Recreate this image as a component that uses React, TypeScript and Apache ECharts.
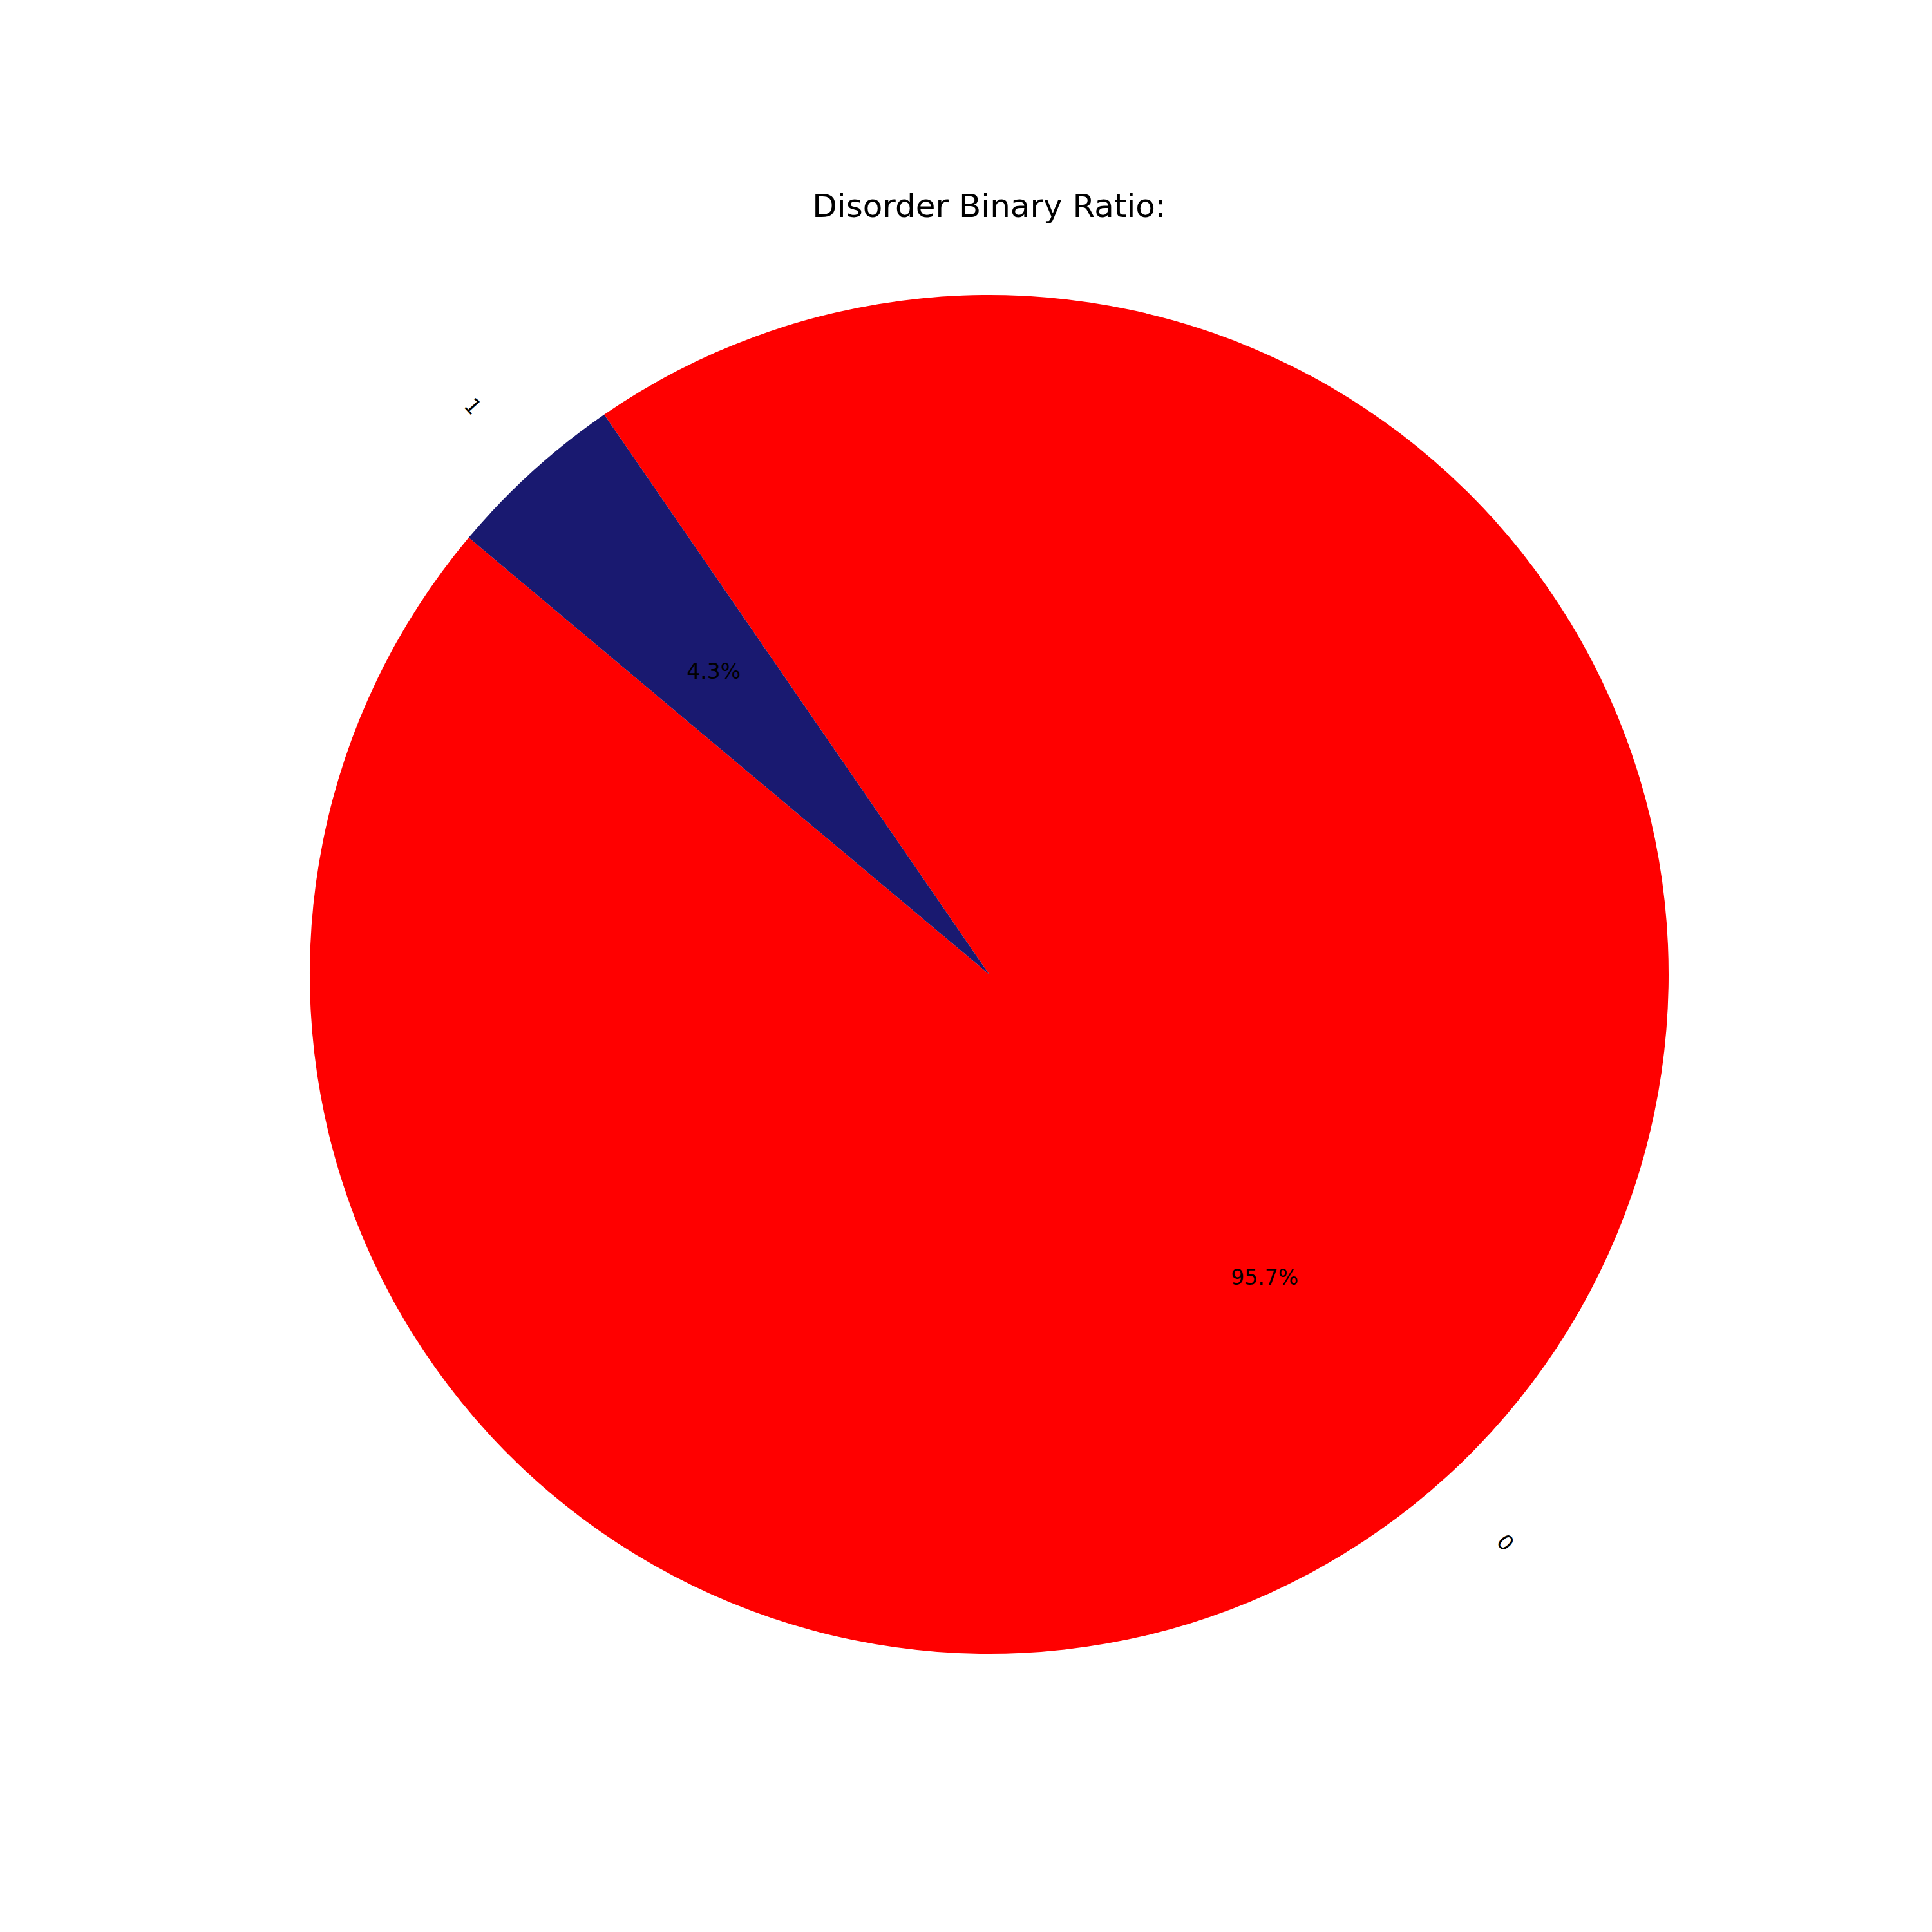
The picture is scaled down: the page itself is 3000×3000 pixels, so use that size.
import React, { useEffect, useRef } from "react";
import * as echarts from "echarts";

const categories = ["0", "1"];
const percents = [95.7, 4.3];
const colors = ["#ff0000", "#191970"];
const titleText = "Disorder Binary Ratio:";

const CX = 1536;
const CY = 1513;
const R = 1055;
const FONT = "DejaVu Sans";

export default function App() {
  const ref = useRef<HTMLDivElement>(null);
  useEffect(() => {
    if (!ref.current) return;
    const chart = echarts.init(ref.current, null, { renderer: "svg" });
    const data = categories.map((c, i) => ({
      name: c,
      value: percents[i],
      itemStyle: { color: colors[i] },
    }));
    const ghost = categories.map((c, i) => ({
      name: c,
      value: percents[i],
      itemStyle: { color: "rgba(0,0,0,0)" },
    }));
    const common = {
      type: "pie",
      center: [CX, CY],
      startAngle: 140,
      clockwise: false,
      silent: true,
      labelLine: { show: false },
      emphasis: { disabled: true },
      avoidLabelOverlap: false,
    };
    chart.setOption({
      animation: false,
      backgroundColor: "#ffffff",
      title: {
        text: titleText,
        left: 1531,
        textAlign: "center",
        top: 290,
        textStyle: { fontFamily: FONT, fontSize: 50, fontWeight: "normal", color: "#000" },
      },
      series: [
        {
          ...common,
          radius: [0, R],
          data,
          itemStyle: { borderWidth: 0 },
          label: { show: false },
          z: 1,
        },
        {
          ...common,
          radius: [0, R * 1.2],
          data: ghost,
          itemStyle: { borderWidth: 0 },
          label: {
            show: true,
            position: "inside",
            fontFamily: FONT,
            fontSize: 33,
            color: "#000",
            formatter: (p: any) => p.value.toFixed(1) + "%",
          },
          z: 2,
        },
        {
          ...common,
          radius: [0, R * 2.254],
          data: ghost,
          itemStyle: { borderWidth: 0 },
          label: {
            show: true,
            position: "inside",
            rotate: "radial",
            fontFamily: FONT,
            fontSize: 33,
            color: "#000",
            formatter: (p: any) => p.name,
          },
          z: 3,
        },
      ],
    });
    return () => chart.dispose();
  }, []);
  return (
    <div
      ref={ref}
      style={{ position: "absolute", left: 0, top: 0, width: 3000, height: 3000 }}
    />
  );
}
